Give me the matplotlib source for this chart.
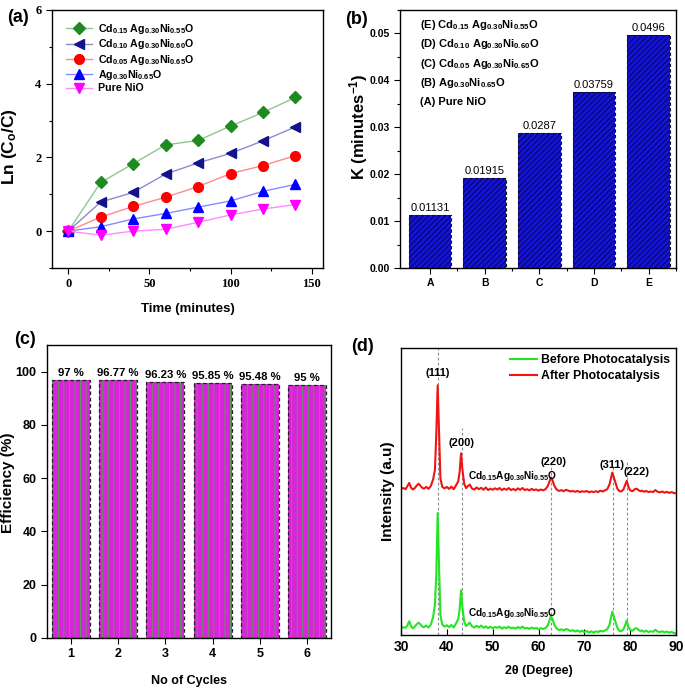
import matplotlib
matplotlib.use("Agg")
import matplotlib.pyplot as plt
from matplotlib.ticker import MultipleLocator, FormatStrFormatter
import numpy as np

plt.rcParams['font.family'] = ['Liberation Sans', 'DejaVu Sans']
plt.rcParams['font.weight'] = 'bold'
plt.rcParams['mathtext.fontset'] = 'custom'
plt.rcParams['mathtext.rm'] = 'Liberation Sans:bold'
plt.rcParams['mathtext.it'] = 'Liberation Sans:bold'
plt.rcParams['mathtext.bf'] = 'Liberation Sans:bold'
plt.rcParams['mathtext.default'] = 'rm'
plt.rcParams['hatch.linewidth'] = 0.6
plt.rcParams['axes.linewidth'] = 1.0

SERIF = ['Liberation Serif', 'DejaVu Serif']

# ---------------- data (a) ----------------
time_min = [0, 20, 40, 60, 80, 100, 120, 140]
ln_cd015 = [0, 1.32, 1.83, 2.34, 2.46, 2.85, 3.22, 3.63]
ln_cd010 = [0, 0.79, 1.05, 1.55, 1.85, 2.11, 2.45, 2.83]
ln_cd005 = [0, 0.38, 0.67, 0.92, 1.21, 1.56, 1.78, 2.05]
ln_ag030 = [0, 0.12, 0.33, 0.48, 0.65, 0.82, 1.08, 1.27]
ln_nio = [0, -0.11, 0.00, 0.05, 0.24, 0.44, 0.60, 0.72]
labels_a = ["Cd$_{0.15}$ Ag$_{0.30}$Ni$_{0.55}$O",
            "Cd$_{0.10}$ Ag$_{0.30}$Ni$_{0.60}$O",
            "Cd$_{0.05}$ Ag$_{0.30}$Ni$_{0.65}$O",
            "Ag$_{0.30}$Ni$_{0.65}$O",
            "Pure NiO"]

# ---------------- data (b) ----------------
k_cats = ["A", "B", "C", "D", "E"]
k_vals = [0.01131, 0.01915, 0.0287, 0.03759, 0.0496]
k_text = ["0.01131", "0.01915", "0.0287", "0.03759", "0.0496"]
k_legend = ["(E) Cd$_{0.15}$ Ag$_{0.30}$Ni$_{0.55}$O",
            "(D) Cd$_{0.10}$ Ag$_{0.30}$Ni$_{0.60}$O",
            "(C) Cd$_{0.05}$ Ag$_{0.30}$Ni$_{0.65}$O",
            "(B) Ag$_{0.30}$Ni$_{0.65}$O",
            "(A) Pure NiO"]

# ---------------- data (c) ----------------
cycles = [1, 2, 3, 4, 5, 6]
efficiency = [97, 96.77, 96.23, 95.85, 95.48, 95]
eff_text = ["97 %", "96.77 %", "96.23 %", "95.85 %", "95.48 %", "95 %"]

# ---------------- data (d) ----------------
two_theta = [30.0, 30.5, 31.0, 31.4, 31.8, 32.2, 32.6, 33.0, 33.4, 33.8,
             34.2, 34.6, 35.0, 35.5, 36.0, 36.5, 37.0, 37.4, 37.7, 38.0,
             38.3, 38.6, 39.0, 39.5, 40.0, 40.5, 41.0, 41.5, 42.0, 42.5,
             42.8, 43.1, 43.4, 43.8, 44.2, 44.6, 45.0, 45.5, 46.0, 46.5,
             47.0, 47.5, 48.0, 48.5, 49.0, 49.5, 50.0, 50.5, 51.0, 51.5,
             52.0, 52.5, 53.0, 53.5, 54.0, 54.5, 55.0, 55.5, 56.0, 56.5,
             57.0, 57.5, 58.0, 58.5, 59.0, 59.5, 60.0, 60.5, 61.0, 61.5,
             62.0, 62.4, 62.7, 63.0, 63.4, 63.8, 64.2, 64.6, 65.0, 65.5,
             66.0, 66.5, 67.0, 67.5, 68.0, 68.5, 69.0, 69.5, 70.0, 70.5,
             71.0, 71.5, 72.0, 72.5, 73.0, 73.5, 74.0, 74.5, 75.0, 75.5,
             75.8, 76.1, 76.4, 76.8, 77.2, 77.6, 78.0, 78.5, 78.9, 79.25,
             79.6, 80.0, 80.5, 81.0, 81.4, 81.8, 82.2, 82.6, 83.0, 83.5,
             84.0, 84.5, 85.0, 85.5, 86.0, 86.5, 87.0, 87.5, 88.0, 88.5,
             89.0, 89.5, 90.0]
before_int = [2.4, 2.7, 2.5, 3.4, 4.8, 3.0, 2.3, 2.9, 3.7, 4.3,
              3.8, 3.0, 2.7, 3.3, 2.6, 3.6, 6.2, 10.5, 21.0, 42.5,
              24.0, 7.0, 3.6, 2.9, 3.4, 2.7, 3.5, 2.6, 4.0, 5.6,
              9.0, 15.6, 9.6, 4.6, 3.1, 3.7, 4.3, 3.0, 2.6, 3.2,
              2.7, 3.3, 2.5, 3.0, 2.4, 2.9, 2.3, 2.8, 2.5, 2.9,
              2.2, 2.7, 2.4, 2.9, 2.3, 2.6, 2.2, 2.8, 2.4, 2.9,
              2.3, 2.5, 2.1, 2.6, 2.2, 2.5, 2.0, 2.4, 2.1, 2.4,
              3.3, 5.1, 6.6, 5.8, 3.8, 2.6, 2.0, 1.7, 2.0, 1.6,
              2.1, 1.8, 1.4, 1.7, 1.2, 1.6, 1.1, 1.5, 1.0, 1.4,
              0.9, 1.3, 0.8, 1.3, 1.0, 1.5, 1.2, 1.6, 2.0, 3.6,
              6.0, 8.1, 6.6, 4.6, 2.5, 1.5, 1.3, 1.9, 3.4, 5.0,
              3.0, 1.8, 1.5, 2.2, 2.4, 1.8, 1.4, 1.6, 1.1, 1.5,
              1.0, 1.3, 1.1, 1.8, 1.2, 1.0, 1.3, 0.9, 1.2, 0.8,
              1.1, 0.7, 0.6]
after_int = [50.9, 51.2, 50.8, 51.9, 53.0, 51.3, 50.7, 51.2, 52.0, 52.7,
             52.1, 51.3, 51.0, 51.6, 50.9, 51.9, 54.2, 57.5, 70.0, 87.0,
             71.0, 54.5, 51.6, 51.1, 51.6, 50.9, 51.7, 50.8, 52.1, 53.6,
             57.0, 63.3, 57.6, 52.6, 51.2, 51.9, 52.4, 51.0, 50.7, 51.4,
             50.8, 51.3, 50.6, 51.4, 50.5, 51.0, 50.6, 51.1, 50.7, 51.2,
             50.5, 51.0, 50.6, 51.2, 50.5, 50.9, 50.4, 51.1, 50.6, 51.2,
             50.5, 50.8, 50.4, 50.9, 50.5, 50.7, 50.3, 50.7, 50.4, 50.8,
             51.8, 53.5, 54.9, 54.2, 52.2, 51.0, 50.4, 50.2, 50.5, 50.1,
             50.6, 50.3, 50.0, 50.2, 49.9, 50.2, 49.8, 50.1, 49.9, 50.2,
             49.7, 50.0, 49.8, 50.1, 49.8, 50.3, 50.0, 50.4, 50.8, 52.5,
             54.6, 56.6, 55.1, 53.0, 51.0, 50.2, 50.0, 50.6, 52.3, 53.7,
             51.8, 50.4, 50.1, 50.8, 51.0, 50.5, 50.1, 50.3, 49.9, 50.2,
             49.8, 50.0, 49.8, 50.5, 49.9, 49.7, 50.0, 49.6, 49.9, 49.5,
             49.8, 49.5, 49.4]
peak_pos = [38.1, 43.2, 62.8, 76.2, 79.3]
peak_hkl = ["(111)", "(200)", "(220)", "(311)", "(222)"]
sample_name = "Cd$_{0.15}$Ag$_{0.30}$Ni$_{0.55}$O"

W, H = 685, 692
fig = plt.figure(figsize=(W / 100, H / 100), dpi=100)


def rect(l, r, t, b):
    return [l / W, 1 - b / H, (r - l) / W, (b - t) / H]


# ================= (a) =================
ax = fig.add_axes(rect(52, 323, 10, 268))
series = [
    (ln_cd015, 'D', '#1f8a1f', '#8cc88c', 6),
    (ln_cd010, '<', '#14148a', '#8c8cc8', 7.5),
    (ln_cd005, 'o', '#ff0000', '#ff8a8a', 7),
    (ln_ag030, '^', '#0000ff', '#8a8aff', 7.5),
    (ln_nio, 'v', '#ff00ff', '#ff8aff', 7.5),
]
for (vals, mk, mc, lc, ms), lab in zip(series, labels_a):
    ax.plot(time_min, vals, color=lc, lw=1.0, marker=mk, ms=ms,
            mfc=mc, mec=mc, label=lab)
ax.set_xlim(-10, 157)
ax.set_ylim(-1, 6)
ax.xaxis.set_major_locator(MultipleLocator(50))
ax.xaxis.set_minor_locator(MultipleLocator(25))
ax.yaxis.set_major_locator(MultipleLocator(2))
ax.yaxis.set_minor_locator(MultipleLocator(1))
ax.tick_params(which='both', direction='out', labelsize=9, width=0.8)
ax.tick_params(which='major', length=4)
ax.tick_params(which='minor', length=2.5)
for lab in ax.get_xticklabels() + ax.get_yticklabels():
    lab.set_family(SERIF)
ax.set_xlabel("Time (minutes)", fontsize=9.5, fontweight='bold')
ax.set_ylabel("Ln (C$_o$/C)", fontsize=12.5, fontweight='bold')
ax.xaxis.set_label_coords(0.50, -0.136)
ax.yaxis.set_label_coords(-0.122, 0.47)
leg = ax.legend(loc='upper left', bbox_to_anchor=(0.025, 0.982), frameon=False,
                fontsize=7.7, handlelength=2.4, handletextpad=0.6,
                labelspacing=0.12, borderaxespad=0.3)

# ================= (b) =================
ax = fig.add_axes(rect(400, 676, 10, 268))
xb = np.arange(len(k_cats))
ax.bar(xb, k_vals, width=0.78, color='#1414d2', edgecolor='#00005a',
       hatch='//////', lw=0)
ax.bar(xb, k_vals, width=0.78, facecolor='none', edgecolor='#101020',
       lw=0.8, ls=(0, (3, 2)))
for xi, v, t in zip(xb, k_vals, k_text):
    ax.annotate(t, (xi, v), xytext=(0, 1.5), textcoords='offset points',
                ha='center', va='bottom', fontsize=8, fontweight='normal')
ax.set_xlim(-0.55, 4.5)
ax.set_ylim(0, 0.055)
ax.set_xticks(xb)
ax.set_xticklabels(k_cats)
ax.set_xticks(xb + 0.5, minor=True)
ax.yaxis.set_major_locator(MultipleLocator(0.01))
ax.yaxis.set_minor_locator(MultipleLocator(0.005))
ax.yaxis.set_major_formatter(FormatStrFormatter('%.2f'))
ax.tick_params(which='both', direction='out', labelsize=7.5, width=0.8)
ax.tick_params(which='major', length=4)
ax.tick_params(which='minor', length=2.5)
ax.set_ylabel("K (minutes$^{-1}$)", fontsize=12, fontweight='bold')
ax.yaxis.set_label_coords(-0.109, 0.547)
for i, t in enumerate(k_legend):
    ax.text(0.072, 0.942 - i * 0.075, t, transform=ax.transAxes,
            ha='left', va='center', fontsize=8, fontweight='bold')

# ================= (c) =================
ax = fig.add_axes(rect(47, 331, 345, 638))
ax.bar(cycles, efficiency, width=0.8, color='#dc22dc', edgecolor='#3cb43c',
       hatch='|||', lw=0)
ax.bar(cycles, efficiency, width=0.8, facecolor='none', edgecolor='#202020',
       lw=0.9, ls=(0, (3, 2)))
for xi, v, t in zip(cycles, efficiency, eff_text):
    ax.annotate(t, (xi, v), xytext=(0, 1.5), textcoords='offset points',
                ha='center', va='bottom', fontsize=8.2, fontweight='bold')
ax.set_xlim(0.5, 6.5)
ax.set_ylim(0, 110)
ax.set_xticks(cycles)
ax.yaxis.set_major_locator(MultipleLocator(20))
ax.tick_params(which='both', direction='out', labelsize=9, width=0.8,
               length=4)
ax.set_xlabel("No of Cycles", fontsize=9, fontweight='bold')
ax.set_ylabel("Efficiency (%)", fontsize=11, fontweight='bold')
ax.xaxis.set_label_coords(0.50, -0.126)
ax.yaxis.set_label_coords(-0.113, 0.529)

# ================= (d) =================
ax = fig.add_axes(rect(401, 676, 348, 635))
ax.plot(two_theta, before_int, color='#22e622', lw=1.5,
        label="Before Photocatalysis")
ax.plot(two_theta, after_int, color='#f01414', lw=1.5,
        label="After Photocatalysis")
line_tops = [1.0, 0.72, 0.60, 0.585, 0.61]
for p, top in zip(peak_pos, line_tops):
    ax.axvline(p, ymin=0, ymax=top, color='#8c8c8c', lw=0.8,
               ls=(0, (2.5, 2)), zorder=0)
hkl_xy = [(38.1, 0.913), (43.2, 0.669), (63.2, 0.604), (76.0, 0.592),
          (81.4, 0.569)]
for t, (xx, yy) in zip(peak_hkl, hkl_xy):
    ax.text(xx, yy * 100, t, ha='center', va='center', fontsize=8,
            fontweight='bold')
ax.text(44.7, 55.4, sample_name, ha='left', va='center', fontsize=7.3,
        fontweight='bold')
ax.text(44.7, 7.6, sample_name, ha='left', va='center', fontsize=7.3,
        fontweight='bold')
ax.set_xlim(30, 90)
ax.set_ylim(0, 100)
ax.set_yticks([])
ax.xaxis.set_major_locator(MultipleLocator(10))
ax.tick_params(axis='x', direction='in', labelsize=10, width=0.8, length=4)
ax.set_xlabel("2θ (Degree)", fontsize=9, fontweight='bold')
ax.set_ylabel("Intensity (a.u)", fontsize=11, fontweight='bold')
ax.xaxis.set_label_coords(0.50, -0.105)
ax.yaxis.set_label_coords(-0.022, 0.502)
leg = ax.legend(loc='upper right', bbox_to_anchor=(1.0, 1.0), frameon=False,
                prop={'size': 8.8, 'weight': 'bold'},
                handlelength=2.2, handletextpad=0.3, labelspacing=0.35,
                borderaxespad=0.3, borderpad=0.2)

# panel letters
for t, (px, py) in zip(["(a)", "(b)", "(c)", "(d)"],
                       [(18, 17), (356, 20), (25, 340), (363, 347)]):
    fig.text(px / W, 1 - py / H, t, ha='center', va='center', fontsize=13,
             fontweight='bold')

fig.savefig("out.png", dpi=100)
